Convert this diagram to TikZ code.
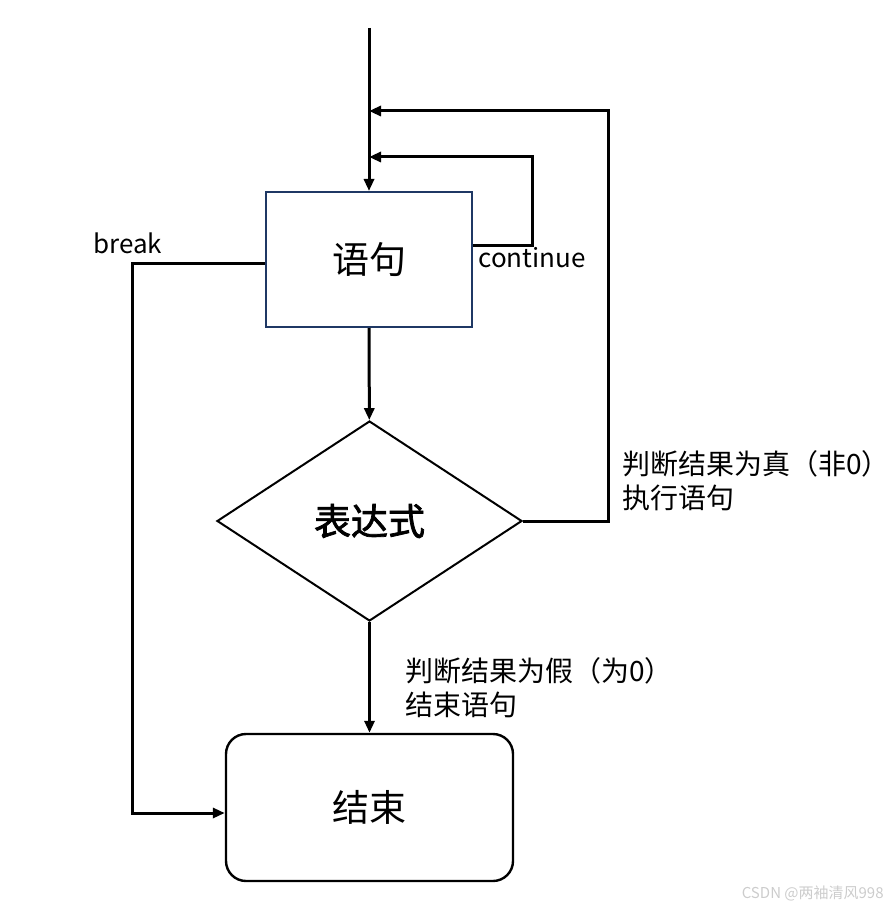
\documentclass[tikz,border=0pt]{standalone}
\usepackage{fontspec}
\setmainfont{Noto Sans CJK SC}
\newfontfamily\cjkbold[FakeBold=2]{Noto Sans CJK SC}
\usetikzlibrary{arrows.meta,positioning,shapes.geometric}
\definecolor{boxblue}{RGB}{31,56,100}

\begin{document}
\begin{tikzpicture}[
  x=0.5pt, y=-0.5pt,
  block/.style={draw=boxblue, line width=1pt, minimum width=103pt,
                minimum height=67.5pt, font=\fontsize{18.5}{22}\selectfont},
  decide/.style={draw, diamond, line width=1pt, minimum width=152.5pt,
                 minimum height=100pt, inner sep=0pt,
                 font=\cjkbold\fontsize{18.5}{22}\selectfont},
  finish/.style={draw, rounded corners=10pt, line width=1.2pt,
                 minimum width=143.5pt, minimum height=73.5pt,
                 font=\fontsize{18.5}{22}\selectfont},
  flow/.style={line width=1.5pt, -{Triangle[length=6pt,width=5pt]}},
  note/.style={inner sep=0pt, font=\fontsize{14}{17}\selectfont},
  word/.style={inner sep=0pt, font=\fontsize{13}{16}\selectfont}]
  \useasboundingbox (0,0) rectangle (887,909);
  \node[block] (body) at (369,259.5) {语句};
  \node[decide] (expr) at (369.5,521) {表达式};
  \node[finish] (end) at (369.5,807.5) {结束};
  \coordinate (top) at (369,28);
  \coordinate (back1) at (369,157);
  \coordinate (back2) at (369,111);
  \draw[flow] (top) -- (body);
  \draw[flow] (body) -- (expr);
  \draw[flow] (expr) -- (end);
  \draw[flow] ([yshift=7pt]body.east) -- ++(59,0) |- (back1);
  \draw[flow] (expr.east) -- ++(85,0) |- (back2);
  \draw[flow] ([yshift=-2pt]body.west) -- ++(-133,0) |- ([yshift=-2.75pt]end.west);
  \node[word, anchor=base west] (brk) at (93,253) {break};
  \node[word, anchor=base west] (cont) at (478,267) {continue};
  \node[note, anchor=north west, align=left] (yes) at (622,450)
    {判断结果为真（非0）\\执行语句};
  \node[note, anchor=north west, align=left] (no) at (405,657)
    {判断结果为假（为0）\\结束语句};
  \node[anchor=east, inner sep=0pt, text=black!20,
        font=\fontsize{7.5}{9}\selectfont] (mark) at (884,893)
    {CSDN @两袖清风998};
\end{tikzpicture}
\end{document}
